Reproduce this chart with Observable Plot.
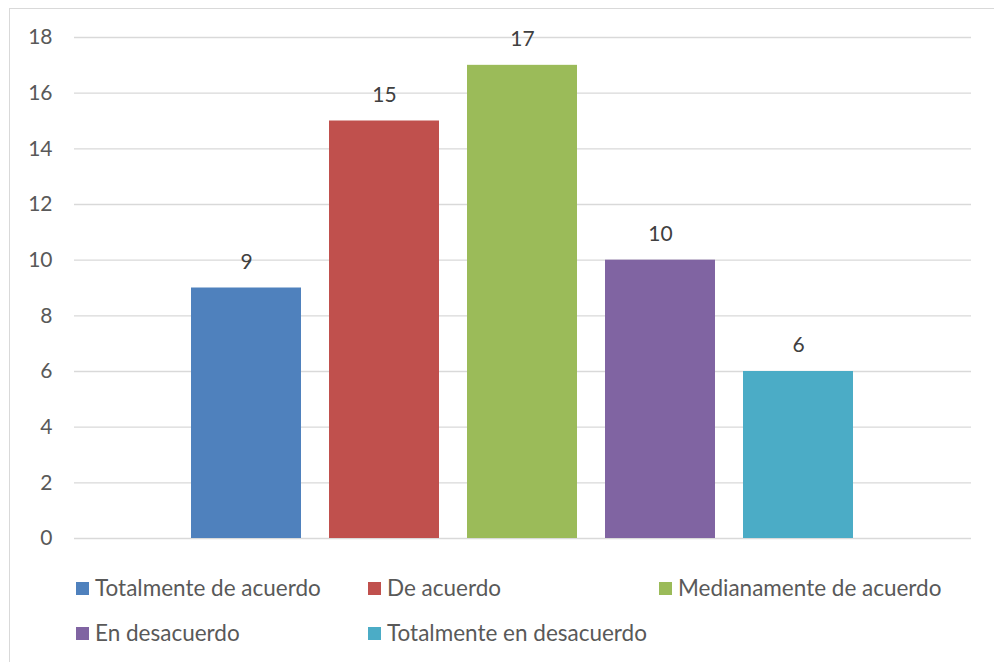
<!DOCTYPE html>
<html>
<head>
<meta charset="utf-8">
<script src="https://cdn.jsdelivr.net/npm/d3@7"></script>
<script src="https://cdn.jsdelivr.net/npm/@observablehq/plot@0.6"></script>
<style>
  body { margin: 0; background: #fff; font-family: Lato, "Open Sans", sans-serif; }
  #wrap { position: relative; width: 994px; height: 662px; overflow: hidden; }
  #border { position: absolute; left: 9px; top: 8px; width: 1000px; height: 700px; border: 1px solid #d9d9d9; box-sizing: border-box; }
  #chart { position: absolute; left: 0; top: 0; }
  .leg { position: absolute; font-size: 22.5px; color: #595959; white-space: nowrap; line-height: 24px; }
  .leg span.sw { display: inline-block; width: 13px; height: 13px; margin-right: 6px; vertical-align: 1px; }
</style>
</head>
<body>
<div id="wrap">
  <div id="border"></div>
  <div id="chart"></div>
  <div id="legend"></div>
</div>
<script>
const categories = ["Totalmente de acuerdo", "De acuerdo", "Medianamente de acuerdo", "En desacuerdo", "Totalmente en desacuerdo"];
const values = [9, 15, 17, 10, 6];
const colors = ["#4F81BD", "#C0504D", "#9BBB59", "#8064A2", "#4BACC6"];
const yTicks = [0, 2, 4, 6, 8, 10, 12, 14, 16, 18];

const data = categories.map((c, i) => ({category: c, value: values[i]}));

const chart = Plot.plot({
  width: 994,
  height: 560,
  marginLeft: 74,
  marginRight: 23,
  marginTop: 37,
  marginBottom: 22,
  style: {fontFamily: "Lato, 'Open Sans', sans-serif", fontSize: "21px", color: "#595959", background: "transparent"},
  x: {domain: categories, range: [177, 867], paddingInner: 0.2, paddingOuter: 0.1, axis: null},
  y: {domain: [0, 18], ticks: yTicks},
  color: {domain: categories, range: colors},
  marks: [
    Plot.gridY(yTicks, {stroke: "#d9d9d9", strokeOpacity: 1, strokeWidth: 1.3}),
    Plot.axisY(yTicks, {tickSize: 0, tickPadding: 22, label: null, fill: "#595959", fontSize: 21}),
    Plot.barY(data, {x: "category", y: "value", fill: "category"}),
    Plot.text(data, {x: "category", y: "value", text: d => String(d.value), dy: -26, fill: "#404040", fontSize: 21})
  ]
});
document.getElementById("chart").appendChild(chart);

const legendPos = [[76, 576], [368, 576], [659, 576], [76, 621], [368, 621]];
const legend = document.getElementById("legend");
categories.forEach((c, i) => {
  const d = document.createElement("div");
  d.className = "leg";
  d.style.left = legendPos[i][0] + "px";
  d.style.top = legendPos[i][1] + "px";
  const sw = document.createElement("span");
  sw.className = "sw";
  sw.style.background = colors[i];
  d.appendChild(sw);
  d.appendChild(document.createTextNode(c));
  legend.appendChild(d);
});
</script>
</body>
</html>
